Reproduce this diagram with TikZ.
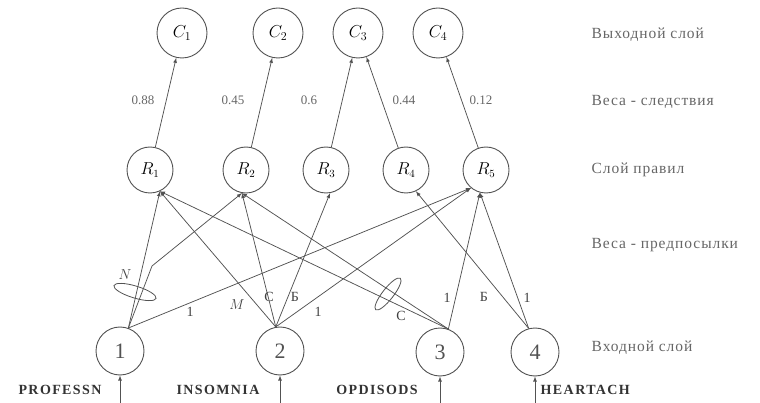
\documentclass[tikz,border=0pt]{standalone}
\usepackage{fontspec}
\setmainfont{Liberation Serif}
\newfontfamily\capsfont[LetterSpace=10]{Liberation Serif}
\newfontfamily\layerfont[LetterSpace=6]{Liberation Serif}
\usetikzlibrary{arrows,shapes.geometric}
\definecolor{wiregray}{gray}{0.32}
\definecolor{textgray}{gray}{0.4}

\begin{document}
\begin{tikzpicture}[x=1pt,y=-1pt]
            \tikzstyle{every path}=[line width=0.75pt]
            \tikzstyle{outnode}=[circle, draw=wiregray, line width=0.9pt, minimum size=50pt, inner sep=0pt, font=\fontsize{17}{19}\selectfont]
            \tikzstyle{rulenode}=[circle, draw=wiregray, line width=0.9pt, minimum size=46pt, inner sep=0pt, font=\fontsize{16}{18}\selectfont]
            \tikzstyle{innode}=[circle, draw=wiregray, line width=0.9pt, minimum size=48pt, inner sep=0pt, text=wiregray, font=\fontsize{22}{24}\selectfont]
            \tikzstyle{wire}=[wiregray, -latex]
            \tikzstyle{weight}=[text=textgray, font=\fontsize{13}{15}\selectfont]
            \tikzstyle{elabel}=[text=black!75, font=\fontsize{14}{16}\selectfont]
            \tikzstyle{layer}=[anchor=west, text=textgray, font=\layerfont\fontsize{15.5}{17}\selectfont]
            \tikzstyle{varname}=[text=black!80, font=\capsfont\bfseries\fontsize{14}{16}\selectfont]
            \tikzstyle{ring}=[ellipse, draw=wiregray, line width=0.8pt, minimum width=44pt, minimum height=12pt, inner sep=0pt]

            \useasboundingbox (0,0) rectangle (760,403);

            % output layer
            \node[outnode] (c1) at (182,33) {$C_1$};
            \node[outnode] (c2) at (278,33) {$C_2$};
            \node[outnode] (c3) at (358,33) {$C_3$};
            \node[outnode] (c4) at (438,33) {$C_4$};

            % rule layer
            \node[rulenode] (r1) at (150,170) {$R_1$};
            \node[rulenode] (r2) at (246,170) {$R_2$};
            \node[rulenode] (r3) at (326,170) {$R_3$};
            \node[rulenode] (r4) at (406,170) {$R_4$};
            \node[rulenode] (r5) at (486,170) {$R_5$};

            % input layer
            \node[innode] (in1) at (120,351) {1};
            \node[innode] (in2) at (280,351) {2};
            \node[innode] (in3) at (440,352) {3};
            \node[innode] (in4) at (535,352) {4};

            % feeding arrows
            \coordinate (in1b) at (120,403);
            \coordinate (in2b) at (280,403);
            \coordinate (in3b) at (440,403);
            \coordinate (in4b) at (535,403);
            \draw[wire] (in1b) -- (in1);
            \draw[wire] (in2b) -- (in2);
            \draw[wire] (in3b) -- (in3);
            \draw[wire] (in4b) -- (in4);

            % variable names
            \node[varname] (v1) at (60,390) {PROFESSN};
            \node[varname] (v2) at (218,390) {INSOMNIA};
            \node[varname] (v3) at (377,390) {OPDISODS};
            \node[varname, anchor=west] (v4) at (537,390) {HEARTACH};

            % rules to outputs
            \draw[wire] (r1) -- (c1);
            \draw[wire] (r2) -- (c2);
            \draw[wire] (r3) -- (c3);
            \draw[wire] (r4) -- (c3);
            \draw[wire] (r5) -- (c4);

            % consequent weights
            \node[weight] (w1) at (143,100) {0.88};
            \node[weight] (w2) at (233,100) {0.45};
            \node[weight] (w3) at (309,100) {0.6};
            \node[weight] (w4) at (404,100) {0.44};
            \node[weight] (w5) at (481,100) {0.12};

            % inputs to rules
            \coordinate (k1) at (152,266);
            \draw[wire] (in1.70) -- (r1.-65);
            \draw[wire] (in1.70) -- (k1) -- (r2.-100);
            \draw[wire] (in1.70) -- (r5.-130);
            \draw[wire] (in2.100) -- (r1.-65);
            \draw[wire] (in2.100) -- (r2.-100);
            \draw[wire] (in2.100) -- (r3.-80);
            \draw[wire] (in2.100) -- (r5.-130);
            \draw[wire] (in3.70) -- (r1.-65);
            \draw[wire] (in3.70) -- (r2.-100);
            \draw[wire] (in3.70) -- (r5.-105);
            \draw[wire] (in4.105) -- (r4.-65);
            \draw[wire] (in4.105) -- (r5.-105);

            % premise rings and labels
            \node[ring, rotate=-17] (e1) at (135,292) {};
            \node[ring, rotate=52, minimum width=40pt, minimum height=11pt] (e2) at (388,294) {};
            \node[elabel] (lN) at (125,275) {$N$};
            \node[elabel] (l1a) at (190,312) {1};
            \node[elabel] (lM) at (237,305) {$M$};
            \node[elabel] (lC) at (269,297) {С};
            \node[elabel] (lB) at (295,297) {Б};
            \node[elabel] (l1b) at (318,312) {1};
            \node[elabel] (lC2) at (401,316) {С};
            \node[elabel] (l1c) at (447,298) {1};
            \node[elabel] (lB2) at (484,297) {Б};
            \node[elabel] (l1d) at (527,298) {1};

            % layer names
            \node[layer] (t1) at (588,35) {Выходной слой};
            \node[layer] (t2) at (588,102) {Веса - следствия};
            \node[layer] (t3) at (588,170) {Слой правил};
            \node[layer] (t4) at (588,245) {Веса - предпосылки};
            \node[layer] (t5) at (588,348) {Входной слой};
\end{tikzpicture}
\end{document}
